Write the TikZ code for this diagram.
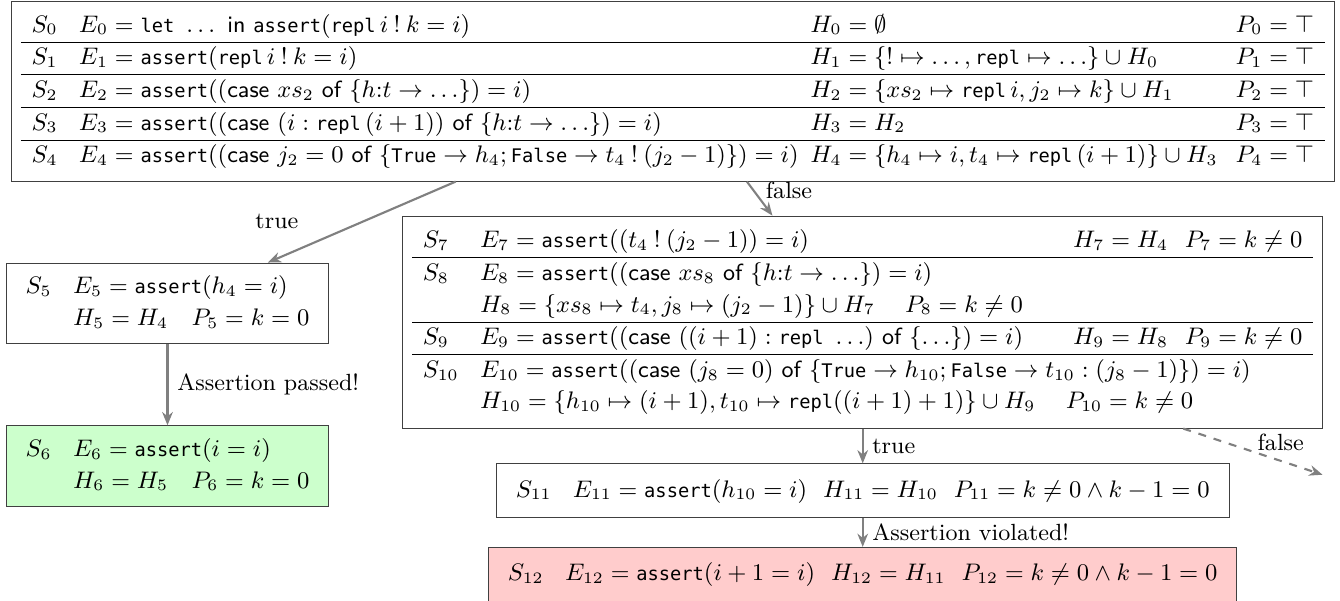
\documentclass[tikz,border=0pt]{standalone}
\usepackage{amsmath}
\usepackage{array}
\usepackage{fontspec}
\setmonofont[Scale=0.8]{DejaVu Sans Mono}
\usepackage{tikz}
\usetikzlibrary{calc, positioning, arrows.meta}

\newcommand{\code}[1]{\texttt{#1}}
\newcommand{\kw}[1]{\textsf{#1}}
\newcommand{\asgn}{\mathrel{\textsf{=}}}
\setlength{\tabcolsep}{4pt}
\renewcommand{\arraystretch}{1.10}

\begin{document}
\begin{tikzpicture}[every node/.style={font=\fontsize{8.8pt}{10.8pt}\selectfont},
        statebox/.style={draw=black!75, rectangle, inner sep=3.3pt},
        transarrow/.style={-{Stealth[length=5pt, width=4pt]}, thick, draw=gray}]
        \useasboundingbox (0,0) rectangle (17.71,-7.93);

        \node[statebox, anchor=north west, minimum width=17.48cm, minimum height=2.36cm] (top) at (0.145,-0.01) {%
            \begin{tabular}{l w{l}{267pt} w{l}{152pt} l}
                $S_0$ & $E_0 \asgn \code{let}\ \ldots\ \kw{in}\ \code{assert}(\code{repl}\,i \mathbin{!} k = i)$ & $H_0 \asgn \emptyset$ & $P_0 \asgn \top$ \\ \hline
                $S_1$ & $E_1 \asgn \code{assert}(\code{repl}\,i \mathbin{!} k = i)$ & $H_1 \asgn \{!\mapsto \ldots, \code{repl} \mapsto \ldots\} \cup H_0$ & $P_1 \asgn \top$ \\ \hline
                $S_2$ & $E_2 \asgn \code{assert}((\kw{case}\ xs_2\ \kw{of}\ \{h{:}t \to \ldots\}) = i)$ & $H_2 \asgn \{xs_2 \mapsto \code{repl}\,i, j_2 \mapsto k\} \cup H_1$ & $P_2 \asgn \top$ \\ \hline
                $S_3$ & $E_3 \asgn \code{assert}((\kw{case}\ (i : \code{repl}\,(i+1))\ \kw{of}\ \{h{:}t \to \ldots\}) = i)$ & $H_3 \asgn H_2$ & $P_3 \asgn \top$ \\ \hline
                $S_4$ & $E_4 \asgn \code{assert}((\kw{case}\ j_2 = 0\ \kw{of}\ \{\code{True} \to h_4; \code{False} \to t_4 \mathbin{!} (j_2 - 1)\}) = i)$ & $H_4 \asgn \{h_4 \mapsto i, t_4 \mapsto \code{repl}\,(i+1)\} \cup H_3$ & $P_4 \asgn \top$
            \end{tabular}};

        \node[statebox, below right=1.07cm and -0.07cm of top.south west] (s5) {%
            \begin{tabular}{ll}
                $S_5$ & $E_5 \asgn \code{assert}(h_4 = i)$ \\
                      & $H_5 \asgn H_4 \quad P_5 \asgn k = 0$
            \end{tabular}};
        \node[statebox, fill=green!20, below=1.07cm of s5] (s6) {%
            \begin{tabular}{ll}
                $S_6$ & $E_6 \asgn \code{assert}(i = i)$ \\
                      & $H_6 \asgn H_5 \quad P_6 \asgn k = 0$
            \end{tabular}};

        \node[statebox, minimum width=12.16cm, minimum height=2.80cm, below left=0.45cm and 0.15cm of top.south east] (falsebr) {%
            \begin{tabular}{l w{l}{215pt} w{l}{34pt} l}
                $S_7$ & $E_7 \asgn \code{assert}((t_4 \mathbin{!} (j_2 - 1)) = i)$ & $H_7 \asgn H_4$ & $P_7 \asgn k \neq 0$ \\ \hline
                $S_8$ & $E_8 \asgn \code{assert}((\kw{case}\ xs_8\ \kw{of}\ \{h{:}t \to \ldots\}) = i)$ & & \\
                      & $H_8 \asgn \{xs_8 \mapsto t_4, j_8 \mapsto (j_2 - 1)\} \cup H_7 \quad\; P_8 \asgn k \neq 0$ & & \\ \hline
                $S_9$ & $E_9 \asgn \code{assert}((\kw{case}\ ((i+1) : \code{repl}\ \ldots)\ \kw{of}\ \{\ldots\}) = i)$ & $H_9 \asgn H_8$ & $P_9 \asgn k \neq 0$ \\ \hline
                $S_{10}$ & \multicolumn{3}{l}{$E_{10} \asgn \code{assert}((\kw{case}\ (j_8 = 0)\ \kw{of}\ \{\code{True} \to h_{10}; \code{False} \to t_{10} : (j_8 - 1)\}) = i)$} \\
                         & \multicolumn{3}{l}{$H_{10} \asgn \{h_{10} \mapsto (i+1), t_{10} \mapsto \code{repl}((i+1)+1)\} \cup H_9 \quad\; P_{10} \asgn k \neq 0$}
            \end{tabular}};

        \node[statebox, minimum height=0.71cm, below=0.46cm of falsebr] (s11) {%
            \begin{tabular}{ll}
                $S_{11}$ & $E_{11} \asgn \code{assert}(h_{10} = i) \hspace{6pt} H_{11} \asgn H_{10} \hspace{6pt} P_{11} \asgn k \neq 0 \wedge k - 1 = 0$
            \end{tabular}};
        \node[statebox, fill=red!20, minimum height=0.71cm, below=0.38cm of s11] (s12) {%
            \begin{tabular}{ll}
                $S_{12}$ & $E_{12} \asgn \code{assert}(i + 1 = i) \hspace{6pt} H_{12} \asgn H_{11} \hspace{6pt} P_{12} \asgn k \neq 0 \wedge k - 1 = 0$
            \end{tabular}};

        \coordinate (fend) at ($(falsebr.south east)+(-0.01,-0.61)$);

        \draw[transarrow] ($(top.south west)!0.336!(top.south east)$) -- node[pos=0.7, above left, xshift=-6pt] {true} ($(s5.north west)!0.81!(s5.north east)$);
        \draw[transarrow] ($(top.south west)!0.556!(top.south east)$) -- node[pos=0.25, right, xshift=1pt] {false} ($(falsebr.north west)!0.402!(falsebr.north east)$);
        \draw[transarrow] (s5) -- node[right] {Assertion passed!} (s6);
        \draw[transarrow, semithick] (falsebr) -- node[right] {true} (s11);
        \draw[transarrow, dashed] ($(falsebr.south west)!0.848!(falsebr.south east)$) -- node[pos=0.7, above] {false} (fend);
        \draw[transarrow, semithick] (s11) -- node[right] {Assertion violated!} (s12);
    \end{tikzpicture}
\end{document}
